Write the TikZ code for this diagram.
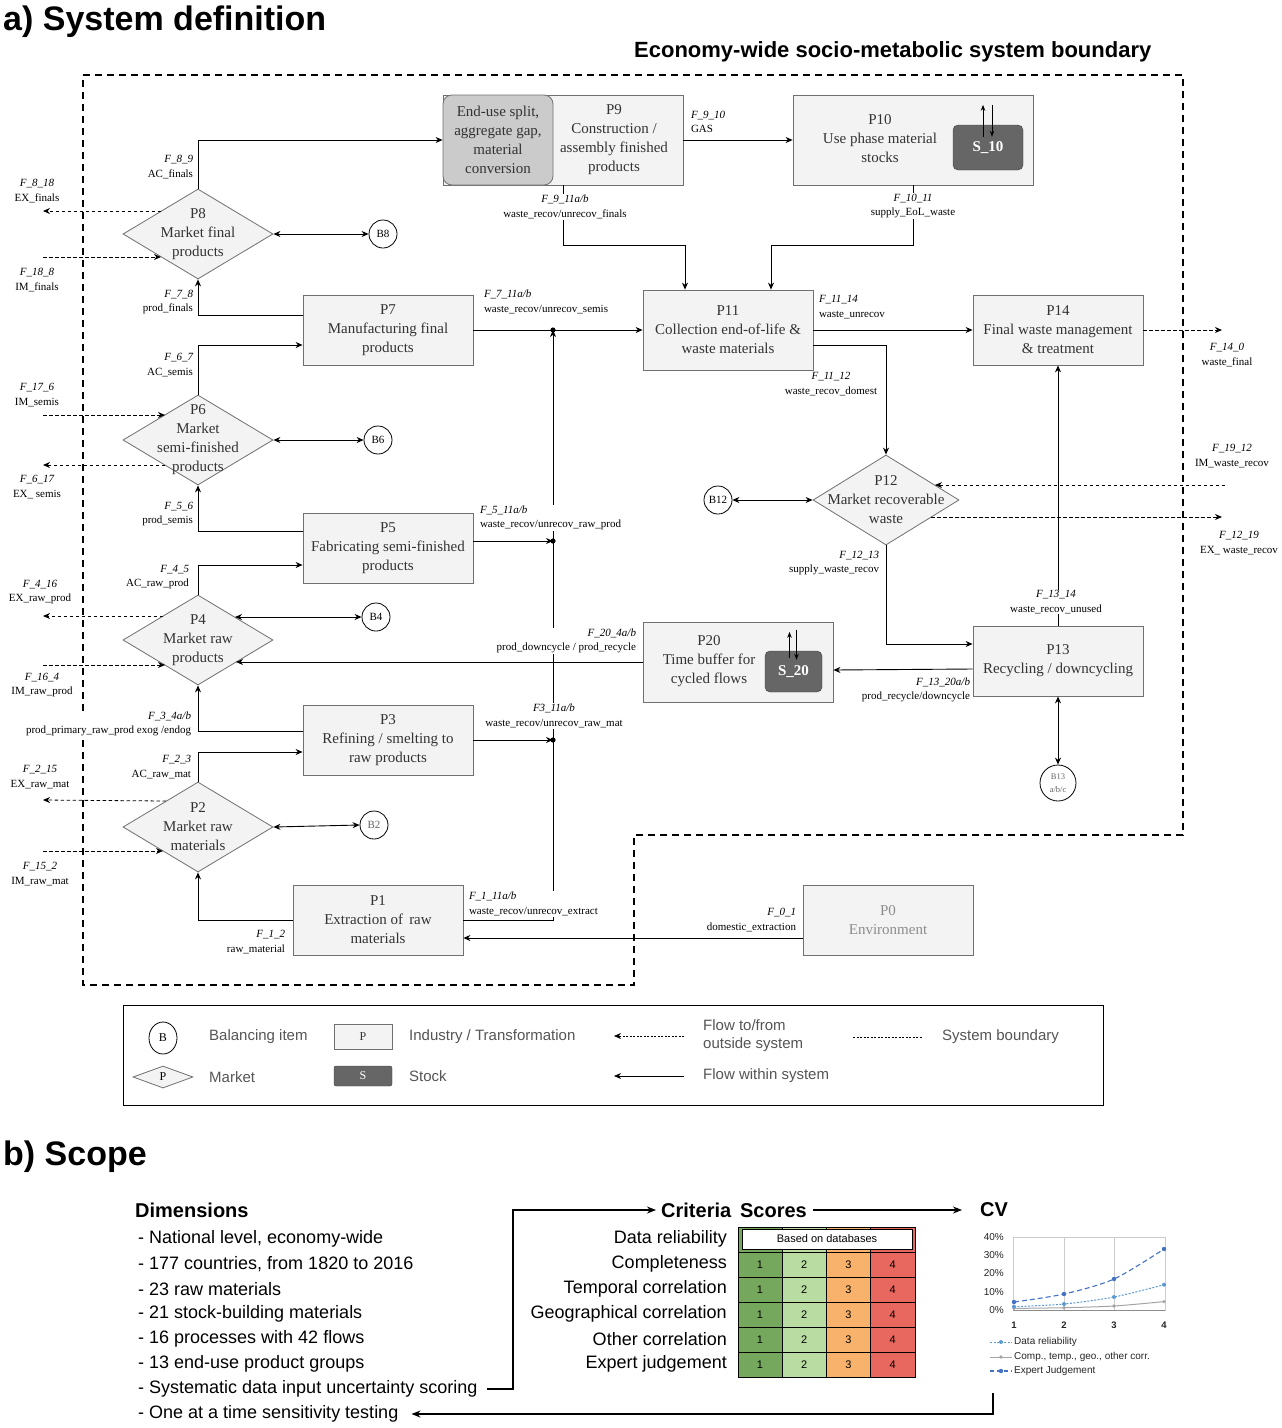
\documentclass[tikz,border=0pt]{standalone}
\usepackage{fontspec}
\setmainfont{Liberation Serif}
\newfontfamily\hv{Liberation Sans}
\usetikzlibrary{arrows.meta,shapes.geometric,calc}

\definecolor{boxfill}{HTML}{F3F3F3}
\definecolor{boxline}{HTML}{707070}
\definecolor{boxtext}{HTML}{333333}
\definecolor{innerfill}{HTML}{CBCBCB}
\definecolor{stockfill}{HTML}{666666}
\definecolor{cgreen}{HTML}{75A85C}
\definecolor{clgreen}{HTML}{B8DCA2}
\definecolor{corange}{HTML}{F8B26C}
\definecolor{cred}{HTML}{E8675F}
\definecolor{lgtext}{HTML}{555555}
\definecolor{cvlblue}{HTML}{5B9BD5}
\definecolor{cvblue}{HTML}{4472C4}
\definecolor{cvgray}{HTML}{A5A5A5}

\newcommand{\bxf}{\fontsize{15}{19}\selectfont}
\newcommand{\lbf}{\fontsize{11}{14.5}\selectfont}
\newcommand{\flw}[2]{{\itshape #1}\\#2}

\begin{document}
\begin{tikzpicture}[x=1pt,y=-1pt,
  tip/.tip={Stealth[length=7pt,width=6pt]},
  proc/.style={draw=boxline, fill=boxfill, line width=0.8pt, inner sep=0pt,
    text=boxtext, align=center, font=\bxf},
  innerbox/.style={draw=black!55, fill=innerfill, rounded corners=9pt, line width=0.8pt,
    inner sep=0pt, text=boxtext, align=center, font=\bxf},
  ptext/.style={inner sep=0pt, align=center, text=boxtext, font=\bxf},
  mkt/.style={diamond, draw=boxline, fill=boxfill, line width=0.8pt, inner sep=0pt,
    minimum width=150pt, minimum height=90pt},
  bal/.style={circle, draw=black, fill=white, line width=0.8pt, inner sep=0pt,
    minimum size=28pt, font=\fontsize{11}{13}\selectfont},
  stock/.style={draw=black!75, fill=stockfill, rounded corners=5pt, text=white,
    inner sep=0pt, font=\bfseries\fontsize{15}{18}\selectfont},
  flow/.style={-tip, line width=0.9pt},
  both/.style={tip-tip, line width=0.9pt},
  ext/.style={-tip, line width=0.8pt, dash pattern=on 3.5pt off 2.5pt},
  small/.style={-{Stealth[length=6pt,width=4.5pt]}, line width=0.9pt},
  boundary/.style={line width=2.2pt, dash pattern=on 7pt off 5pt},
  lbl/.style={font=\lbf, inner sep=0.8pt},
  lblr/.style={lbl, align=right, anchor=east},
  lbll/.style={lbl, align=left, anchor=west},
  lblc/.style={lbl, align=center},
  lgt/.style={anchor=west, inner sep=0pt, text=lgtext, align=left,
    font=\hv\fontsize{15}{18}\selectfont},
  item/.style={anchor=west, inner sep=0pt, font=\hv\fontsize{18}{22}\selectfont},
  head/.style={inner sep=0pt, font=\hv\bfseries\fontsize{20}{24}\selectfont},
  cvt/.style={inner sep=0pt, text=black!85, font=\hv\fontsize{10}{12}\selectfont},
  arrb/.style={-{Stealth[length=9pt,width=7pt]}, line width=1.4pt}
]
\useasboundingbox (0,0) rectangle (1282,1428);
\fill[white] (0,0) rectangle (1282,1428);

% ---------------- a) system definition ----------------
\node[anchor=base west, inner sep=0pt, font=\hv\bfseries\fontsize{34}{40}\selectfont]
  (ttla) at (3,30) {a) System definition};
\node[anchor=base west, inner sep=0pt, font=\hv\bfseries\fontsize{22}{26}\selectfont]
  (ttlb) at (634,57) {Economy-wide socio-metabolic system boundary};

% system boundary
\draw[boundary] (83,75) -- (1183,75) -- (1183,835) -- (634,835) -- (634,985)
  -- (83,985) -- cycle;

% processes
\node[proc, minimum width=240pt, minimum height=90pt] (p9) at (563,140) {};
\node[innerbox, minimum width=110pt, minimum height=90pt] (eu) at (498,140)
  {End-use split,\\aggregate gap,\\material\\conversion};
\node[ptext] (p9t) at (614,140) {P9\\Construction /\\assembly finished\\products};

\node[proc, minimum width=240pt, minimum height=90pt] (p10) at (913,140) {};
\node[ptext] (p10t) at (880,139) {P10\\Use phase material\\stocks};
\node[stock, minimum width=70pt, minimum height=45pt] (s10) at (988,147.5) {S\_10};
\draw[small] ($(s10.north)+(-5,12)$) -- ($(s10.north)+(-5,-20)$);
\draw[small] ($(s10.north)+(4,-20)$) -- ($(s10.north)+(4,12)$);

\node[proc, minimum width=170pt, minimum height=70pt] (p7) at (388,330)
  {P7\\Manufacturing final\\products};
\node[proc, minimum width=170pt, minimum height=70pt] (p5) at (388,548)
  {P5\\Fabricating semi-finished\\products};
\node[proc, minimum width=170pt, minimum height=70pt] (p3) at (388,740)
  {P3\\Refining / smelting to\\raw products};
\node[proc, minimum width=170pt, minimum height=70pt] (p1) at (378,920)
  {P1\\Extraction of\ \,raw\\materials};
\node[proc, minimum width=170pt, minimum height=70pt, text=black!45] (p0) at (888,920)
  {P0\\Environment};
\node[proc, minimum width=170pt, minimum height=80pt] (p11) at (728,330)
  {P11\\Collection end-of-life \&\\waste materials};
\node[proc, minimum width=170pt, minimum height=70pt] (p14) at (1058,330)
  {P14\\Final waste management\\\& treatment};
\node[proc, minimum width=170pt, minimum height=70pt] (p13) at (1058,661)
  {P13\\Recycling / downcycling};

\node[proc, minimum width=190pt, minimum height=80pt] (p20) at (738,662) {};
\node[ptext] (p20t) at (709,661) {P20\\Time buffer for\\cycled flows};
\node[stock, minimum width=57pt, minimum height=41pt] (s20) at (793.5,671.5) {S\_20};
\draw[small] ($(s20.north)+(-4,7)$) -- ($(s20.north)+(-4,-19)$);
\draw[small] ($(s20.north)+(3,-21)$) -- ($(s20.north)+(3,9)$);

% markets
\node[mkt, label={[ptext]center:{P8\\Market final\\products}}] (p8) at (198,234) {};
\node[mkt, label={[ptext]center:{P6\\Market\\semi-finished\\products}}] (p6) at (198,440) {};
\node[mkt, label={[ptext]center:{P4\\Market raw\\products}}] (p4) at (198,640) {};
\node[mkt, label={[ptext]center:{P2\\Market raw\\materials}}] (p2) at (198,827) {};
\node[mkt, minimum width=146pt, label={[ptext]center:{P12\\Market recoverable\\waste}}]
  (p12) at (886,500) {};

% balancing items
\node[bal] (b8) at (383,234) {B8};
\node[bal] (b6) at (378,440) {B6};
\node[bal] (b4) at (376,617) {B4};
\node[bal, text=black!60] (b2) at (374,825) {B2};
\node[bal] (b12) at (718,500) {B12};
\node[bal, minimum size=36pt, align=center, text=black!60,
  font=\fontsize{8.5}{13}\selectfont] (b13) at (1058,783) {B13\\a/b/c};

% flows within the system
\draw[flow] (p8.north) |- (p9.west);
\draw[flow] (p9.east) -- (p10.west);
\draw[flow] (p9.south) -- ++(0,60) -| ([xshift=-43pt]p11.north);
\draw[flow] (p10.south) -- ++(0,60) -| ([xshift=43pt]p11.north);
\draw[flow] ($(p7.west)+(0,-15)$) -| (p8.south);
\draw[flow] (p6.north) |- ($(p7.west)+(0,15)$);
\draw[flow] ($(p5.west)+(0,-17)$) -| (p6.south);
\draw[flow] (p4.north) |- ($(p5.west)+(0,17)$);
\draw[flow] ($(p3.west)+(0,-9)$) -| (p4.south);
\draw[flow] (p2.north) |- ($(p3.west)+(0,12)$);
\draw[flow] (p1.west) -| (p2.south);
\draw[flow] ($(p0.west)+(0,18)$) -- ($(p1.east)+(0,18)$);

\coordinate (j7) at (553,330);
\coordinate (j5) at (553,541);
\coordinate (j3) at (553,740);
\draw[flow] (p1.east) -| (j7);
\draw[flow] (p3.east) -- (j3);
\draw[flow] ($(p5.east)+(0,-7)$) -- (j5);
\draw[flow] (p7.east) -- (p11.west);
\foreach \j in {j7,j5,j3} \fill (\j) circle (2.6pt);

\draw[flow] (p11.east) -- (p14.west);
\draw[flow] ($(p11.east)+(0,15)$) -| (p12.north);
\draw[both] (b12.east) -- (p12.west);
\draw[flow] (p12.south) |- ($(p13.west)+(0,-17)$);
\draw[flow] (p13.north) -- (p14.south);
\draw[flow] ($(p13.west)+(0,8)$) -- ($(p20.east)+(0,8)$);
\draw[both] (p13.south) -- (b13.north);
\draw[flow] (p20.west) -- ($(p4.center)+(38,22)$);

\draw[both] (p8.east) -- (b8.west);
\draw[both] (p6.east) -- (b6.west);
\draw[both] ($(p4.center)+(37,-23)$) -- (b4.west);
\draw[both] (p2.east) -- (b2.west);

% flows to and from outside the system
\coordinate (o14) at (1222,330);
\coordinate (i12) at (1225,485);
\coordinate (e12) at (1222,517);
\draw[ext] (p14.east) -- (o14);
\draw[ext] (i12) -- ($(p12.center)+(49,-15)$);
\draw[ext] ($(p12.center)+(45,17)$) -- (e12);

\coordinate (x8e) at (43,211);
\coordinate (x8i) at (43,257);
\coordinate (x6i) at (43,415);
\coordinate (x6e) at (43,465);
\coordinate (x4e) at (43,616);
\coordinate (x4i) at (43,665);
\coordinate (x2e) at (43,800);
\coordinate (x2i) at (43,851);
\draw[ext] ($(p8.center)+(-37,-23)$) -- (x8e);
\draw[ext] (x8i) -- ($(p8.center)+(-37,23)$);
\draw[ext] (x6i) -- ($(p6.center)+(-33,-25)$);
\draw[ext] ($(p6.center)+(-33,25)$) -- (x6e);
\draw[ext] ($(p4.center)+(-35,-24)$) -- (x4e);
\draw[ext] (x4i) -- ($(p4.center)+(-33,25)$);
\draw[ext] ($(p2.center)+(-32,-26)$) -- (x2e);
\draw[ext] (x2i) -- ($(p2.center)+(-35,24)$);

% flow labels
\node[lblr] (l89) at (194,167) {\flw{F\_8\_9}{AC\_finals}};
\node[lblc] (l818) at (37,191) {\flw{F\_8\_18}{EX\_finals}};
\node[lblc] (l188) at (37,280) {\flw{F\_18\_8}{IM\_finals}};
\node[lblr] (l78) at (194,302) {\flw{F\_7\_8}{prod\_finals}};
\node[lblr] (l67) at (194,365) {\flw{F\_6\_7}{AC\_semis}};
\node[lblc] (l176) at (37,395) {\flw{F\_17\_6}{IM\_semis}};
\node[lblc] (l617) at (37,487) {\flw{F\_6\_17}{EX\_ semis}};
\node[lblr] (l56) at (194,514) {\flw{F\_5\_6}{prod\_semis}};
\node[lblr] (l45) at (190,577) {\flw{F\_4\_5}{AC\_raw\_prod}};
\node[lblc] (l416) at (40,592) {\flw{F\_4\_16}{EX\_raw\_prod}};
\node[lblc] (l164) at (42,685) {\flw{F\_16\_4}{IM\_raw\_prod}};
\node[lblr, fill=white] (l34) at (192,724) {\flw{F\_3\_4a/b}{prod\_primary\_raw\_prod exog /endog}};
\node[lblr] (l23) at (192,767) {\flw{F\_2\_3}{AC\_raw\_mat}};
\node[lblc] (l215) at (40,777) {\flw{F\_2\_15}{EX\_raw\_mat}};
\node[lblc] (l152) at (40,874) {\flw{F\_15\_2}{IM\_raw\_mat}};
\node[lblr] (l12) at (286,942) {\flw{F\_1\_2}{raw\_material}};
\node[lbll] (l910) at (690,122) {\flw{F\_9\_10}{GAS}};
\node[lblc, fill=white] (l911) at (565,207) {\flw{F\_9\_11a/b}{waste\_recov/unrecov\_finals}};
\node[lblc, fill=white] (l1011) at (913,206) {\flw{F\_10\_11}{supply\_EoL\_waste}};
\node[lbll] (l711) at (483,302) {\flw{F\_7\_11a/b}{waste\_recov/unrecov\_semis}};
\node[lbll] (l1114) at (818,307) {\flw{F\_11\_14}{waste\_unrecov}};
\node[lblc] (l1112) at (831,384) {\flw{F\_11\_12}{waste\_recov\_domest}};
\node[lbll, fill=white] (l511) at (479,518) {\flw{F\_5\_11a/b}{waste\_recov/unrecov\_raw\_prod}};
\node[lblr, fill=white] (l204) at (637,641) {\flw{F\_20\_4a/b}{prod\_downcycle / prod\_recycle}};
\node[lblc, fill=white] (l311) at (554,716) {\flw{F3\_11a/b}{waste\_recov/unrecov\_raw\_mat}};
\node[lbll, fill=white] (l111) at (468,904) {\flw{F\_1\_11a/b}{waste\_recov/unrecov\_extract}};
\node[lblr] (l01) at (797,920) {\flw{F\_0\_1}{domestic\_extraction}};
\node[lblr] (l1213) at (880,563) {\flw{F\_12\_13}{supply\_waste\_recov}};
\node[lblc, fill=white] (l1314) at (1056,602) {\flw{F\_13\_14}{waste\_recov\_unused}};
\node[lblr] (l1320) at (971,690) {\flw{F\_13\_20a/b}{prod\_recycle/downcycle}};
\node[lblc] (l140) at (1227,355) {\flw{F\_14\_0}{waste\_final}};
\node[lblc] (l1912) at (1232,456) {\flw{F\_19\_12}{IM\_waste\_recov}};
\node[lblc] (l1219) at (1239,543) {\flw{F\_12\_19}{EX\_ waste\_recov}};

% legend
\draw[line width=0.9pt] (123,1005) rectangle (1103,1105);
\node[ellipse, draw, line width=0.8pt, minimum width=28pt, minimum height=32pt, inner sep=0pt,
  font=\fontsize{12}{14}\selectfont] (lgb) at (163,1038) {B};
\node[lgt] (lgbt) at (209,1037) {Balancing item};
\node[diamond, draw=boxline, fill=boxfill, line width=0.8pt, minimum width=60pt,
  minimum height=22pt, inner sep=0pt,
  label={[inner sep=0pt, font=\fontsize{12}{14}\selectfont]center:P}] (lgm) at (163,1077) {};
\node[lgt] (lgmt) at (209,1077) {Market};
\node[proc, minimum width=58pt, minimum height=25pt, font=\fontsize{12}{14}\selectfont]
  (lgp) at (363,1037) {P};
\node[lgt] (lgpt) at (409,1037) {Industry / Transformation};
\node[stock, minimum width=58pt, minimum height=20pt, rounded corners=2pt,
  font=\fontsize{12}{14}\selectfont] (lgs) at (363,1076) {S};
\node[lgt] (lgst) at (409,1076) {Stock};
\coordinate (lge1) at (684,1036);
\coordinate (lge2) at (614,1036);
\coordinate (lgf1) at (684,1076);
\coordinate (lgf2) at (614,1076);
\draw[ext, line width=0.7pt, dash pattern=on 2pt off 1.5pt] (lge1) -- (lge2);
\draw[flow] (lgf1) -- (lgf2);
\node[lgt] (lget) at (703,1036) {Flow to/from\\outside system};
\node[lgt] (lgft) at (703,1076) {Flow within system};
\coordinate (lgd1) at (853,1037);
\coordinate (lgd2) at (922,1037);
\draw[line width=0.7pt, dash pattern=on 2pt off 1.5pt] (lgd1) -- (lgd2);
\node[lgt] (lgdt) at (942,1037) {System boundary};

% ---------------- b) scope ----------------
\node[anchor=base west, inner sep=0pt, font=\hv\bfseries\fontsize{34}{40}\selectfont]
  (ttlc) at (3,1165) {b) Scope};
\node[head, anchor=west] (dimh) at (135,1210) {Dimensions};
\node[item] (d1) at (138,1239) {- National level, economy-wide};
\node[item] (d2) at (138,1264) {- 177 countries, from 1820 to 2016};
\node[item] (d3) at (138,1289) {- 23 raw materials};
\node[item] (d4) at (138,1314) {- 21 stock-building materials};
\node[item] (d5) at (138,1339) {- 16 processes with 42 flows};
\node[item] (d6) at (138,1364) {- 13 end-use product groups};
\node[item] (d7) at (138,1389) {- Systematic data input uncertainty scoring};
\node[item] (d8) at (138,1414) {- One at a time sensitivity testing};

\node[head, anchor=west] (crit) at (661,1210) {Criteria\;\,Scores};
\node[head, anchor=west] (cv) at (980,1210) {CV};
\coordinate (kx) at (513,1300);
\coordinate (cvo) at (993,1393);
\draw[arrb, shorten <=9pt, shorten >=5pt] (d7.east) -- (d7.east -| kx) |- (crit.west);
\draw[arrb, shorten <=6pt, shorten >=18pt] (crit.east) -- (cv.west);
\draw[arrb, shorten >=13pt] (cvo) |- (d8.east);

% criteria
\node[item, anchor=east] (c1) at (727,1239) {Data reliability};
\node[item, anchor=east] (c2) at (727,1264) {Completeness};
\node[item, anchor=east] (c3) at (727,1289) {Temporal correlation};
\node[item, anchor=east] (c4) at (727,1314) {Geographical correlation};
\node[item, anchor=east] (c5) at (727,1339) {Other correlation};
\node[item, anchor=east] (c6) at (727,1364) {Expert judgement};

% score table
\foreach \c/\col in {0/cgreen,1/clgreen,2/corange,3/cred}
  \fill[\col] (738+44.25*\c,1227) rectangle ++(44.25,150);
\foreach \c in {1,2,3}
  \draw[line width=0.6pt] (738+44.25*\c,1227) -- (738+44.25*\c,1377);
\foreach \r in {1,...,5}
  \draw[line width=0.6pt] (738,1227+25*\r) -- (915,1227+25*\r);
\draw[line width=0.8pt] (738,1227) rectangle (915,1377);
\node[draw, fill=white, line width=0.8pt, minimum width=170pt, minimum height=20pt,
  inner sep=0pt, font=\hv\fontsize{11}{13}\selectfont] (bod) at (827,1239) {Based on databases};
\foreach \r in {1,...,5}
  \foreach \c/\score in {0/1,1/2,2/3,3/4}
    \node[cvt, text=black, font=\hv\fontsize{11}{13}\selectfont]
      at (760+44.25*\c,1239.5+25*\r) {\score};

% CV chart
\draw[black!20, line width=0.6pt] (1013,1237) rectangle (1165,1310);
\foreach \x in {1064,1114}
  \draw[black!20, line width=0.6pt] (\x,1237) -- (\x,1310);
\draw[black!45, line width=0.7pt] (1013,1310) -- (1165,1310);
\node[cvt, anchor=east] at (1004,1237) {40\%};
\node[cvt, anchor=east] at (1004,1255.25) {30\%};
\node[cvt, anchor=east] at (1004,1273.5) {20\%};
\node[cvt, anchor=east] at (1004,1291.75) {10\%};
\node[cvt, anchor=east] at (1004,1310) {0\%};
\foreach \i/\x in {1/1014,2/1064,3/1114,4/1164}
  \node[cvt, font=\hv\bfseries\fontsize{9.5}{12}\selectfont] at (\x,1325) {\i};
\draw[cvgray, line width=1pt] plot[smooth] coordinates
  {(1014,1308.4) (1064,1307.7) (1114,1306) (1164,1301.6)};
\draw[cvlblue, line width=1pt, dash pattern=on 2pt off 1.5pt] plot[smooth] coordinates
  {(1014,1306.7) (1064,1304) (1114,1297) (1164,1284.7)};
\draw[cvblue, line width=1.1pt, dash pattern=on 5pt off 3pt] plot[smooth] coordinates
  {(1014,1302) (1064,1294) (1114,1279) (1164,1249)};
\foreach \p in {(1014,1308.4),(1064,1307.7),(1114,1306),(1164,1301.6)}
  \fill[cvgray] \p circle (1.8pt);
\foreach \p in {(1014,1306.7),(1064,1304),(1114,1297),(1164,1284.7)}
  \fill[cvlblue] \p circle (2pt);
\foreach \p in {(1014,1302),(1064,1294),(1114,1279),(1164,1249)}
  \fill[cvblue] \p circle (2.2pt);

\draw[cvlblue, line width=1pt, dash pattern=on 2pt off 1.5pt] (990,1342) -- (1012,1342);
\fill[cvlblue] (1001,1342) circle (2pt);
\draw[cvgray, line width=1pt] (990,1357) -- (1012,1357);
\fill[cvgray] (1001,1357) circle (1.8pt);
\draw[cvblue, line width=1.1pt, dash pattern=on 4pt off 3pt] (990,1371) -- (1012,1371);
\fill[cvblue] (1001,1371) circle (2.2pt);
\node[cvt, anchor=west] at (1014,1342) {Data reliability};
\node[cvt, anchor=west] at (1014,1357) {Comp., temp., geo., other corr.};
\node[cvt, anchor=west] at (1014,1371) {Expert Judgement};

\end{tikzpicture}
\end{document}
